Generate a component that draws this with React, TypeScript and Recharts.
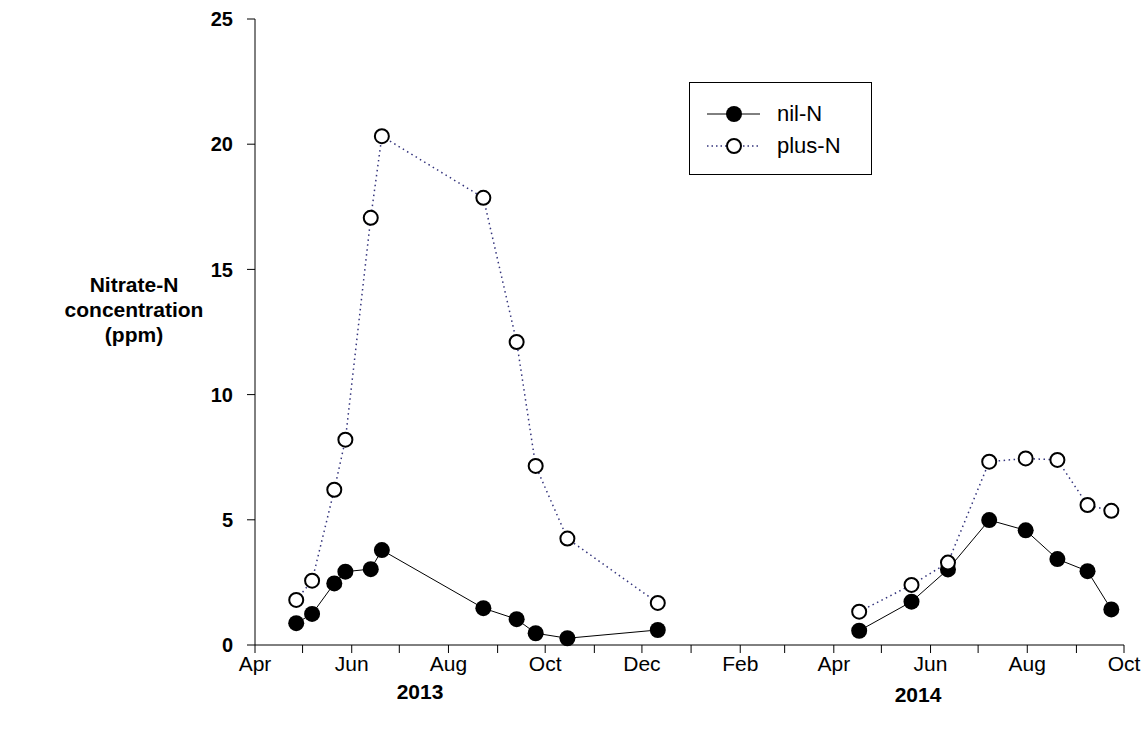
import type { ReactElement } from "react";
import { Legend, Line, LineChart, XAxis, YAxis } from "recharts";

// sampling dates and values (two seasons, not joined)
const dates2013 = [
  "2013-04-27", "2013-05-07", "2013-05-21", "2013-05-28", "2013-06-13", "2013-06-20",
  "2013-08-23", "2013-09-13", "2013-09-25", "2013-10-15", "2013-12-11"
];
const nil2013 = [0.87, 1.24, 2.46, 2.93, 3.03, 3.79, 1.47, 1.03, 0.47, 0.27, 0.6];
const plus2013 = [1.8, 2.57, 6.2, 8.2, 17.06, 20.32, 17.86, 12.1, 7.15, 4.25, 1.68];

const dates2014 = [
  "2014-04-17", "2014-05-20", "2014-06-12", "2014-07-08", "2014-07-31",
  "2014-08-20", "2014-09-08", "2014-09-23"
];
const nil2014 = [0.57, 1.73, 3.02, 4.99, 4.58, 3.43, 2.95, 1.42];
const plus2014 = [1.33, 2.4, 3.29, 7.32, 7.45, 7.39, 5.59, 5.36];

const tickDates = [
  "2013-04-01", "2013-05-01", "2013-06-01", "2013-07-01", "2013-08-01", "2013-09-01", "2013-10-01",
  "2013-11-01", "2013-12-01", "2014-01-01", "2014-02-01", "2014-03-01", "2014-04-01", "2014-05-01",
  "2014-06-01", "2014-07-01", "2014-08-01", "2014-09-01", "2014-10-01"
];
const tickLabels = ["Apr", "", "Jun", "", "Aug", "", "Oct", "", "Dec", "", "Feb", "", "Apr", "", "Jun", "", "Aug", "", "Oct"];
const yTicks = [0, 5, 10, 15, 20, 25];
const yearLabels = [{ text: "2013", x: 420, y: 692 }, { text: "2014", x: 918, y: 695 }];
const yLabelLines = ["Nitrate-N", "concentration", "(ppm)"];

const FONT = "Arial, 'Liberation Sans', Helvetica, sans-serif";
const DOTTED = "#34347c";

const origin = Date.parse("2013-04-01");
const toDay = (d: string): number => (Date.parse(d) - origin) / 86400000;

const rows = (dates: string[], nil: number[], plus: number[]) =>
  dates.map((d, i) => ({ day: toDay(d), nil: nil[i], plus: plus[i] }));
const seasons = [
  { key: "2013", data: rows(dates2013, nil2013, plus2013) },
  { key: "2014", data: rows(dates2014, nil2014, plus2014) }
];
const tickDays = tickDates.map(toDay);
const labelFor = (day: number): string => tickLabels[tickDays.indexOf(day)] ?? "";

function LegendBox(): ReactElement {
  return (
    <svg width={183} height={93} style={{ display: "block" }}>
      <rect x={0.5} y={0.5} width={182} height={92} fill="#fff" stroke="#000" strokeWidth={1} />
      <line x1={18} x2={71} y1={32} y2={32} stroke="#000" strokeWidth={1} />
      <circle cx={45} cy={32} r={8} fill="#000" />
      <text x={88} y={39} fontFamily={FONT} fontSize={22} fill="#000">nil-N</text>
      <line x1={18} x2={71} y1={64} y2={64} stroke={DOTTED} strokeWidth={1.5} strokeDasharray="1.5 3" />
      <circle cx={45} cy={64} r={7} fill="#fff" stroke="#000" strokeWidth={2} />
      <text x={88} y={71} fontFamily={FONT} fontSize={22} fill="#000">plus-N</text>
    </svg>
  );
}

export default function App(): ReactElement {
  return (
    <div style={{ position: "absolute", left: 0, top: 0, width: 1142, height: 738, background: "#fff", fontFamily: FONT }}>
      <LineChart width={1142} height={738} margin={{ top: 19, right: 18, bottom: 63, left: 195 }}>
        <XAxis
          dataKey="day"
          type="number"
          domain={[0, tickDays[tickDays.length - 1]]}
          ticks={tickDays}
          interval={0}
          tickFormatter={labelFor}
          tickSize={8}
          tickMargin={3}
          height={30}
          stroke="#000"
          allowDuplicatedCategory={false}
          tick={{ fill: "#000", fontSize: 21, fontFamily: FONT }}
        />
        <YAxis
          type="number"
          domain={[0, 25]}
          ticks={yTicks}
          interval={0}
          tickSize={8}
          tickMargin={14}
          width={60}
          stroke="#000"
          tick={{ fill: "#000", fontSize: 20, fontWeight: "bold", fontFamily: FONT }}
        />
        <Legend
          layout="vertical"
          align="center"
          verticalAlign="middle"
          wrapperStyle={{ left: 689, top: 82, width: 183, height: 93 }}
          content={() => <LegendBox />}
        />
        {seasons.map((s) => (
          <Line
            key={`nil-${s.key}`}
            data={s.data}
            type="linear"
            dataKey="nil"
            name="nil-N"
            stroke="#000"
            strokeWidth={1}
            dot={{ r: 8, fill: "#000", stroke: "#000", strokeWidth: 0 }}
            isAnimationActive={false}
          />
        ))}
        {seasons.map((s) => (
          <Line
            key={`plus-${s.key}`}
            data={s.data}
            type="linear"
            dataKey="plus"
            name="plus-N"
            stroke={DOTTED}
            strokeWidth={1.5}
            strokeDasharray="1.5 3.5"
            dot={{ r: 7, fill: "#fff", stroke: "#000", strokeWidth: 2, strokeDasharray: "none" }}
            isAnimationActive={false}
          />
        ))}
      </LineChart>
      <div
        style={{
          position: "absolute", left: 134, top: 309, transform: "translate(-50%, -50%)",
          textAlign: "center", fontWeight: "bold", fontSize: 21, lineHeight: "25px", whiteSpace: "nowrap"
        }}
      >
        {yLabelLines.map((l) => <div key={l}>{l}</div>)}
      </div>
      {yearLabels.map((y) => (
        <div
          key={y.text}
          style={{
            position: "absolute", left: y.x, top: y.y, transform: "translate(-50%, -50%)",
            fontWeight: "bold", fontSize: 21
          }}
        >
          {y.text}
        </div>
      ))}
    </div>
  );
}
